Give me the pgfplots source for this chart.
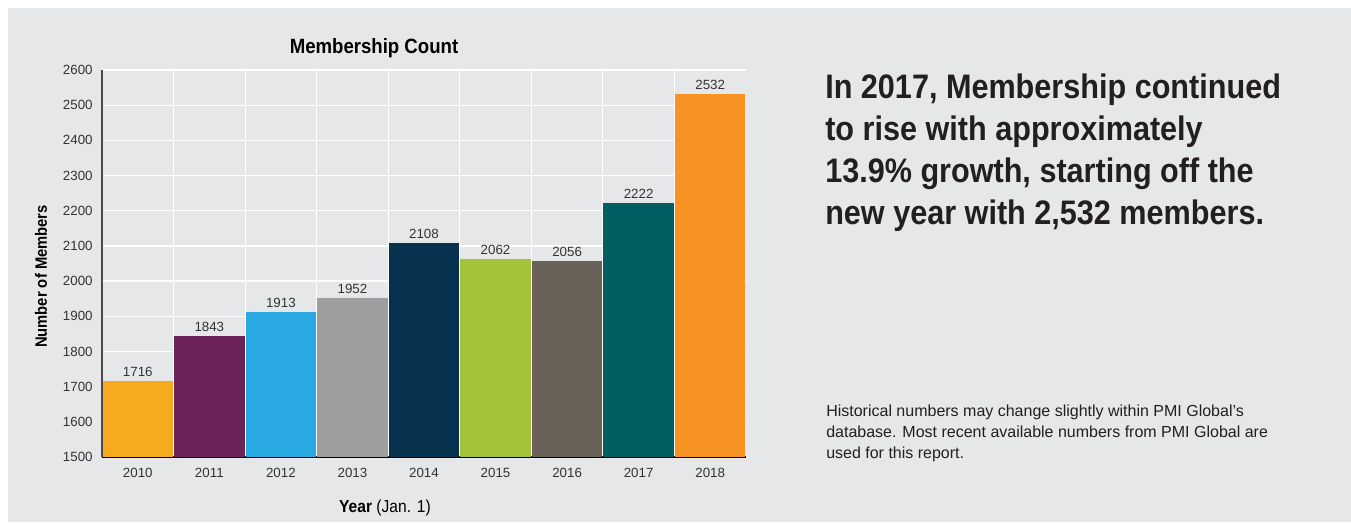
\documentclass[border=0pt]{standalone}
\usepackage{fontspec}
\setmainfont{Liberation Sans}
\newfontfamily\condfont[FakeStretch=0.9]{Liberation Sans}
\usepackage{pgfplots}
\pgfplotsset{compat=1.18}
\definecolor{bg}{HTML}{E6E7E8}
\definecolor{txt}{HTML}{333333}
\definecolor{dark}{HTML}{231F20}
\definecolor{axisgray}{HTML}{4A4A4A}
\definecolor{cA}{HTML}{F6AB1F}
\definecolor{cB}{HTML}{6B2359}
\definecolor{cC}{HTML}{29A9E1}
\definecolor{cD}{HTML}{9E9E9E}
\definecolor{cE}{HTML}{063250}
\definecolor{cF}{HTML}{A5C33A}
\definecolor{cG}{HTML}{6A6159}
\definecolor{cH}{HTML}{035E64}
\definecolor{cI}{HTML}{F69322}
\begin{document}
\begin{tikzpicture}
\begin{scope}[x=0.75pt,y=0.75pt]
\fill[white] (0,0) rectangle (1351,522);
\fill[bg] (8,0) rectangle (1351,514);
\end{scope}
\begin{axis}[
  at={(76.5pt,48.75pt)}, anchor=south west,
  scale only axis, width=483pt, height=290.25pt,
  xmin=-0.5, xmax=8.5, ymin=1500, ymax=2600,
  xtick={0,1,2,3,4,5,6,7,8},
  xticklabels={2010,2011,2012,2013,2014,2015,2016,2017,2018},
  minor xtick={0.5,1.5,2.5,3.5,4.5,5.5,6.5,7.5},
  ytick={1500,1600,...,2600},
  major tick length=0pt, minor tick length=0pt,
  tick style={draw=none},
  ymajorgrids, xminorgrids,
  major grid style={white, line width=0.9pt},
  minor grid style={white, line width=0.9pt},
  axis x line*=bottom, axis y line*=left,
  x axis line style={-, black, line width=1pt},
  y axis line style={-, axisgray, line width=1.6pt},
  ticklabel style={font=\fontsize{10}{11}\selectfont, color=txt},
  yticklabel style={xshift=-3.5pt},
  xticklabel style={yshift=-4.5pt},
  /pgf/number format/.cd, 1000 sep={}, assume math mode=true, /pgfplots/.cd,
  ybar, bar width=0.985, bar shift=0pt,
  nodes near coords,
  every node near coord/.append style={font=\fontsize{10}{11}\selectfont, color=txt, yshift=-0.3pt},
]
\addplot[fill=cA, draw=none] coordinates {(0,1716)};
\addplot[fill=cB, draw=none] coordinates {(1,1843)};
\addplot[fill=cC, draw=none] coordinates {(2,1913)};
\addplot[fill=cD, draw=none] coordinates {(3,1952)};
\addplot[fill=cE, draw=none] coordinates {(4,2108)};
\addplot[fill=cF, draw=none] coordinates {(5,2062)};
\addplot[fill=cG, draw=none] coordinates {(6,2056)};
\addplot[fill=cH, draw=none] coordinates {(7,2222)};
\addplot[fill=cI, draw=none] coordinates {(8,2532)};
\end{axis}
\begin{scope}[x=0.75pt,y=0.75pt]
% title and axis labels
\node[anchor=base, font=\condfont\bfseries\fontsize{15.5}{18}\selectfont, text=black, inner sep=0pt] at (374,468) {Membership Count};
\node[anchor=base, font=\condfont\fontsize{13}{15}\selectfont, text=black, inner sep=0pt] at (385,10) {\textbf{Year} (Jan. 1)};
\node[rotate=90, font=\condfont\bfseries\fontsize{12.3}{14}\selectfont, text=black, inner sep=0pt] at (41,245.5) {Number of Members};
% right text
\begin{scope}[every node/.style={anchor=base west, inner sep=0pt, text=dark, font=\condfont\bfseries\fontsize{25.5}{30}\selectfont}]
\node at (825,423) {In 2017, Membership continued};
\node at (825,381.3) {to rise with approximately};
\node at (825,339.3) {13.9\% growth, starting off the};
\node at (825,298) {new year with 2,532 members.};
\end{scope}
\begin{scope}[every node/.style={anchor=base west, inner sep=0pt, text=dark, font=\fontsize{12}{14}\selectfont}]
\node at (826,106) {Historical numbers may change slightly within PMI Global’s};
\node at (826,85) {database. Most recent available numbers from PMI Global are};
\node at (826,64) {used for this report.};
\end{scope}
\end{scope}
\end{tikzpicture}
\end{document}
